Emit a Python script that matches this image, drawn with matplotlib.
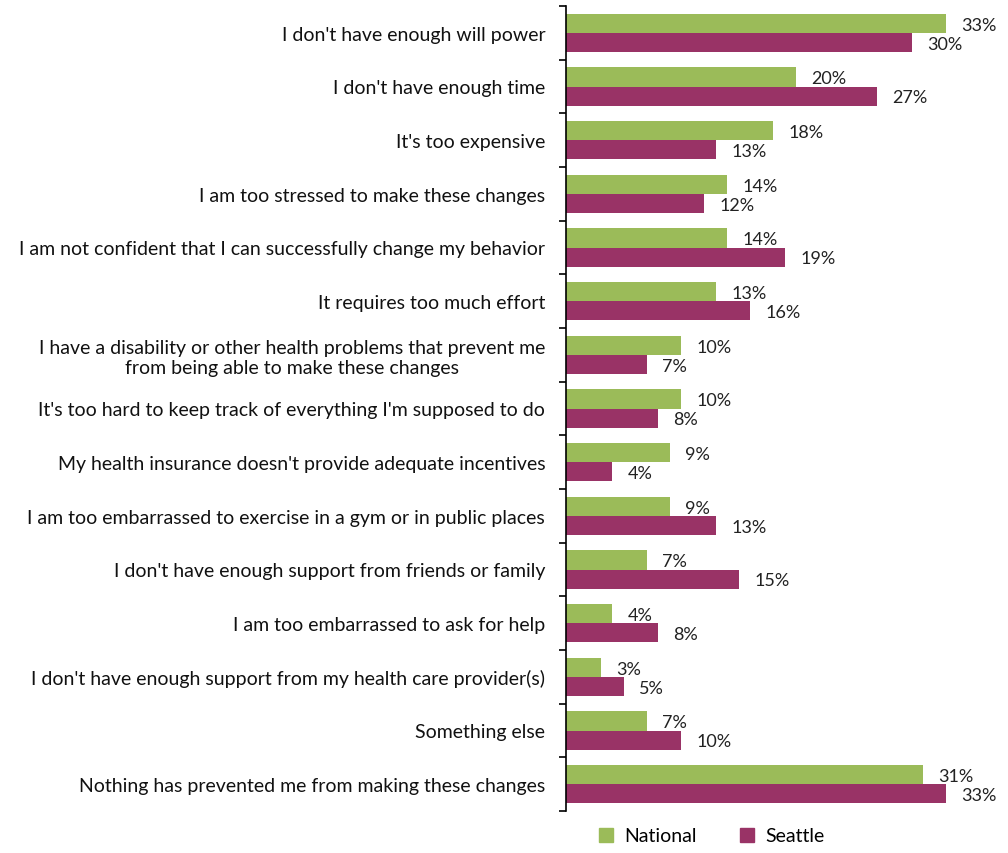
import matplotlib
matplotlib.use("Agg")
import matplotlib.pyplot as plt
import numpy as np
from matplotlib.patches import Patch

categories = [
    "I don't have enough will power",
    "I don't have enough time",
    "It's too expensive",
    "I am too stressed to make these changes",
    "I am not confident that I can successfully change my behavior",
    "It requires too much effort",
    "I have a disability or other health problems that prevent me\nfrom being able to make these changes",
    "It's too hard to keep track of everything I'm supposed to do",
    "My health insurance doesn't provide adequate incentives",
    "I am too embarrassed to exercise in a gym or in public places",
    "I don't have enough support from friends or family",
    "I am too embarrassed to ask for help",
    "I don't have enough support from my health care provider(s)",
    "Something else",
    "Nothing has prevented me from making these changes",
]
national = [33, 20, 18, 14, 14, 13, 10, 10, 9, 9, 7, 4, 3, 7, 31]
seattle = [30, 27, 13, 12, 19, 16, 7, 8, 4, 13, 15, 8, 5, 10, 33]
series_names = ["National", "Seattle"]
colors = ["#9BBB59", "#993366"]

plt.rcParams['font.family'] = ['Lato', 'DejaVu Sans']

fig = plt.figure(figsize=(10.08, 8.54), dpi=100)
ax = fig.add_axes([566/1008, 1-812/854, (998-566)/1008, (812-7)/854])

n = len(categories)
y = np.arange(n)
h = 0.355
ax.barh(y - h/2, national, height=h, color=colors[0], label=series_names[0])
ax.barh(y + h/2, seattle, height=h, color=colors[1], label=series_names[1])

for yi, v in zip(y, national):
    ax.annotate(f"{v}%", (v, yi - h/2), xytext=(11, -1), textcoords="offset points",
                va="center", ha="left", fontsize=13, color="#222222")
for yi, v in zip(y, seattle):
    ax.annotate(f"{v}%", (v, yi + h/2), xytext=(11, -1), textcoords="offset points",
                va="center", ha="left", fontsize=13, color="#222222")

ax.set_ylim(n - 0.5, -0.5)
ax.set_xlim(0, 37.5)
ax.set_yticks(np.arange(n + 1) - 0.5)
ax.set_yticklabels([])
ax.set_yticks(y, minor=True)
ax.set_yticklabels(categories, minor=True, fontsize=14, multialignment="center",
                   color="#111111")
ax.tick_params(axis="y", which="minor", length=0, pad=15)
ax.tick_params(axis="y", which="major", length=5, width=1.2, direction="out")
ax.set_xticks([])
for s in ["top", "right", "bottom"]:
    ax.spines[s].set_visible(False)
ax.spines["left"].set_linewidth(1.2)

handles = [Patch(color=colors[0]), Patch(color=colors[1])]
fig.legend(handles, series_names, loc="center", bbox_to_anchor=(712/1008, 1-837/854),
           ncol=2, frameon=False, fontsize=14, handlelength=0.7, handleheight=0.7,
           columnspacing=2.2, handletextpad=0.6)

fig.savefig("out.png", dpi=100)
